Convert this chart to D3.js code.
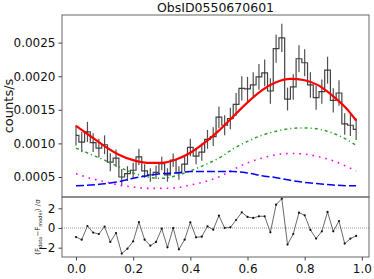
<!DOCTYPE html>
<html><head><meta charset="utf-8">
<script src="https://cdn.jsdelivr.net/npm/d3@7"></script>
<style>body{margin:0;background:#fff}svg{display:block;font-family:"DejaVu Sans",sans-serif}</style>
</head><body><svg id="c" width="374" height="279"></svg>
<script>
const title = "ObsID0550670601";
const phase = [0.00,0.02,0.04,0.06,0.08,0.10,0.12,0.14,0.16,0.18,0.20,0.22,0.24,0.26,0.28,0.30,0.32,0.34,0.36,0.38,0.40,0.42,0.44,0.46,0.48,0.50,0.52,0.54,0.56,0.58,0.60,0.62,0.64,0.66,0.68,0.70,0.72,0.74,0.76,0.78,0.80,0.82,0.84,0.86,0.88,0.90,0.92,0.94,0.96,0.98];
const rate = [0.00112,0.00102,0.00117,0.00101,0.00093,0.00098,0.00072,0.00078,0.00050,0.00055,
0.00060,0.00080,0.00059,0.00053,0.00057,0.00070,0.00053,0.00075,0.00056,0.00069,
0.00094,0.00081,0.00087,0.00106,0.00110,0.00139,0.00127,0.00137,0.00158,0.00182,
0.00181,0.00187,0.00199,0.00205,0.00178,0.00241,0.00257,0.00166,0.00184,0.00226,
0.00220,0.00187,0.00168,0.00177,0.00209,0.00164,0.00175,0.00129,0.00127,0.00121];
const rateErr = [0.00015,0.00015,0.00015,0.00014,0.00014,0.00014,0.000135,0.00013,0.00012,0.00011,
0.00011,0.00012,0.0001,0.0001,0.0001,0.0001,0.0001,0.0001,0.0001,0.00011,
0.00013,0.00012,0.00013,0.00014,0.00014,0.00016,0.00015,0.00016,0.00017,0.00018,
0.00018,0.00019,0.00019,0.0002,0.00019,0.00021,0.00021,0.00017,0.00019,0.0002,
0.0002,0.00019,0.00018,0.00018,0.0002,0.00018,0.00019,0.00016,0.00016,0.00016];
const resid = [-0.92,-1.19,0.2,-0.47,-0.61,0.14,-1.42,-0.51,-2.6,-2.1,
-1.36,0.6,-1.19,-1.8,-1.42,-0.07,-1.97,0.0,-2.17,-1.19,
0.58,-0.95,-0.88,0.17,-0.17,1.25,0.0,0.07,0.81,1.59,
1.12,1.02,1.19,1.19,-0.44,2.37,2.98,-1.69,-0.61,1.56,
1.29,-0.2,-1.08,-0.34,1.63,-0.34,0.71,-1.59,-1.08,-0.81];
const modelPhase = [0.00,0.05,0.10,0.15,0.20,0.25,0.30,0.35,0.40,0.45,0.50,0.55,0.60,0.65,0.70,0.75,0.80,0.85,0.90,0.95,0.98];
const modelTotal = [0.00126,0.00111,0.00096,0.00083,0.00075,0.00071,0.00071,0.00076,0.00086,0.00101,0.00119,0.00140,0.00161,0.00179,0.00191,0.00196,0.00194,0.00186,0.00170,0.00150,0.00134];
const modelA = [0.00093,0.00084,0.00075,0.00065,0.00056,0.00050,0.00048,0.00052,0.00059,0.00068,0.00078,0.00092,0.00103,0.00112,0.00118,0.00122,0.00123,0.00121,0.00115,0.00105,0.00097];
const modelB = [0.00055,0.00048,0.00043,0.00038,0.00035,0.00033,0.00033,0.00034,0.00038,0.00043,0.00050,0.00061,0.00071,0.00078,0.00083,0.00085,0.00084,0.00080,0.00074,0.00065,0.00059];
const modelC = [0.00037,0.00038,0.00040,0.00043,0.00048,0.00052,0.00055,0.00056,0.00058,0.00058,0.00058,0.00058,0.00056,0.00052,0.00049,0.00045,0.00042,0.00040,0.00038,0.00037,0.00037];
const yTicks = [0.0005,0.0010,0.0015,0.0020,0.0025];
const rTicks = [-2,0,2];
const xTicks = [0.0,0.2,0.4,0.6,0.8,1.0];

const svg = d3.select("#c");
const L = 62, R = 369, T1 = 15, B1 = 197, T2 = 197, B2 = 257;
const x = d3.scaleLinear().domain([-0.049, 1.025]).range([L, R]);
const y = d3.scaleLinear().domain([0.000202, 0.002911]).range([B1, T1]);
const yr = d3.scaleLinear().domain([-2.95, 3.15]).range([B2, T2]);

const clip = svg.append("defs").append("clipPath").attr("id","cp").append("rect")
  .attr("x",L).attr("y",T1).attr("width",R-L).attr("height",B1-T1);
const g1 = svg.append("g").attr("clip-path","url(#cp)");

// data steps
g1.append("path").datum(phase.map((p,i)=>[p,rate[i]]))
  .attr("d", d3.line().x(d=>x(d[0])).y(d=>y(d[1])).curve(d3.curveStep))
  .attr("fill","none").attr("stroke","#222").attr("stroke-width",1.2).attr("stroke-opacity",0.85);
g1.selectAll("line.eb").data(phase).enter().append("line")
  .attr("x1",(p)=>x(p)).attr("x2",(p)=>x(p))
  .attr("y1",(p,i)=>y(rate[i]-rateErr[i])).attr("y2",(p,i)=>y(rate[i]+rateErr[i]))
  .attr("stroke","#333").attr("stroke-width",1.2).attr("stroke-opacity",0.85);

const ml = d3.line().x((d)=>x(d[0])).y(d=>y(d[1])).curve(d3.curveMonotoneX);
function model(arr, color, w, dash){
  g1.append("path").datum(modelPhase.map((p,i)=>[p,arr[i]]))
    .attr("d", ml).attr("fill","none").attr("stroke",color).attr("stroke-width",w)
    .attr("stroke-dasharray",dash);
}
model(modelA, "#2ca02c", 1.5, "3,3,1.2,3");
model(modelB, "#ff00ff", 1.6, "1.6,5");
model(modelC, "#0000ff", 1.5, "8,3");
model(modelTotal, "#ff0000", 2.2, null);

// residual panel
svg.append("line").attr("x1",L).attr("x2",R).attr("y1",yr(0)).attr("y2",yr(0))
  .attr("stroke","#999").attr("stroke-width",1).attr("stroke-dasharray","1,1");
svg.append("path").datum(phase.map((p,i)=>[p,resid[i]]))
  .attr("d", d3.line().x(d=>x(d[0])).y(d=>yr(d[1])))
  .attr("fill","none").attr("stroke","#444").attr("stroke-width",0.8);
svg.selectAll("circle.r").data(phase).enter().append("circle")
  .attr("cx",p=>x(p)).attr("cy",(p,i)=>yr(resid[i])).attr("r",1.1).attr("fill","#111");

// frames
[[T1,B1],[T2,B2]].forEach(([t,b])=>{
  svg.append("rect").attr("x",L).attr("y",t).attr("width",R-L).attr("height",b-t)
    .attr("fill","none").attr("stroke","#666").attr("stroke-width",1);
});

// axes
const ax1 = svg.append("g").attr("transform",`translate(${L},0)`)
  .call(d3.axisLeft(y).tickValues(yTicks).tickFormat(d3.format(".4f")).tickSize(3.5).tickPadding(3));
const ax2 = svg.append("g").attr("transform",`translate(${L},0)`)
  .call(d3.axisLeft(yr).tickValues(rTicks).tickFormat(d=>d<0?"\u2212"+Math.abs(d):d).tickSize(3.5).tickPadding(3));
const ax3 = svg.append("g").attr("transform",`translate(0,${B2})`)
  .call(d3.axisBottom(x).tickValues(xTicks).tickFormat(d3.format(".1f")).tickSize(3.5).tickPadding(4));
[ax1,ax2,ax3].forEach(a=>{
  a.select(".domain").remove();
  a.selectAll("line").attr("stroke","#444");
  a.selectAll("text").attr("font-size",12).attr("fill","#111").attr("font-family","DejaVu Sans");
});

svg.append("text").attr("x",(L+R)/2).attr("y",12).attr("text-anchor","middle")
  .attr("font-size",12.5).attr("fill","#111").text(title);
svg.append("text").attr("transform",`translate(13,${(T1+B1)/2}) rotate(-90)`)
  .attr("text-anchor","middle").attr("font-size",13).attr("fill","#111").text("counts/s");
const rl = svg.append("text").attr("transform",`translate(40,227) rotate(-90)`)
  .attr("text-anchor","middle").attr("font-size",7).attr("fill","#222");
rl.append("tspan").text("(F");
rl.append("tspan").attr("font-size",5).attr("dy",1.5).text("data");
rl.append("tspan").attr("dy",-1.5).text("\u2212F");
rl.append("tspan").attr("font-size",5).attr("dy",1.5).text("model");
rl.append("tspan").attr("dy",-1.5).text(") /\u03c3");
</script></body></html>
